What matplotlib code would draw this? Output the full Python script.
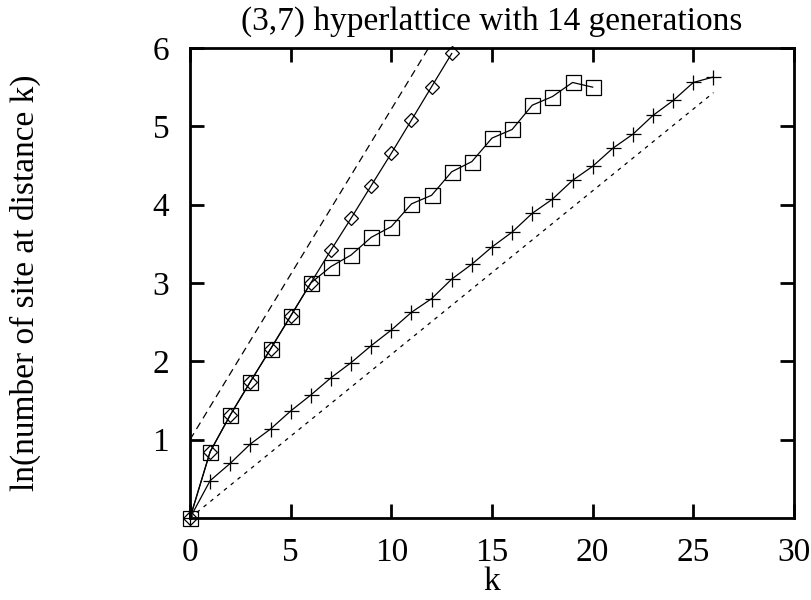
import matplotlib
matplotlib.use("Agg")
import matplotlib.pyplot as plt

# data
k_diamond = list(range(0, 14))
y_diamond = [0.0, 0.846, 1.315, 1.74, 2.157, 2.579, 3.0, 3.42, 3.826, 4.243,
             4.656, 5.08, 5.506, 5.93]
k_square = list(range(0, 21))
y_square = [0.0, 0.846, 1.315, 1.74, 2.157, 2.579, 3.0, 3.21, 3.357, 3.583,
            3.72, 4.01, 4.12, 4.42, 4.55, 4.85, 4.96, 5.27, 5.38, 5.56, 5.50]
k_plus = list(range(0, 27))
y_plus = [0.0, 0.477, 0.698, 0.945, 1.136, 1.366, 1.57, 1.79, 1.983, 2.2,
          2.40, 2.626, 2.80, 3.05, 3.24, 3.46, 3.65, 3.89, 4.07, 4.31,
          4.49, 4.72, 4.90, 5.14, 5.33, 5.56, 5.63]
# reference lines
upper_x = [0, 11.85]
upper_y = [1.0, 6.0]
lower_x = [0, 26]
lower_y = [0.0, 5.43]

xticks = [0, 5, 10, 15, 20, 25, 30]
yticks = [1, 2, 3, 4, 5, 6]

plt.rcParams['font.family'] = ['Liberation Serif', 'DejaVu Serif']

fig = plt.figure(figsize=(8.12, 6.0), dpi=100)
ax = fig.add_axes([190/812, 1-518/600, (794-190)/812, (518-48)/600])

ax.plot(upper_x, upper_y, color='black', lw=0.9, dashes=(6, 4))
ax.plot(lower_x, lower_y, color='black', lw=0.9, dashes=(3, 4))
ax.plot(k_diamond, y_diamond, color='black', lw=0.9, marker='D', ms=7.6,
        mfc='none', mec='black', mew=0.9, clip_on=False)
ax.plot(k_square, y_square, color='black', lw=0.9, marker='s', ms=10.8,
        mfc='none', mec='black', mew=0.9, clip_on=False)
ax.plot(k_plus, y_plus, color='black', lw=0.9, marker='+', ms=10.8,
        mec='black', mew=0.9, clip_on=False)

ax.set_xlim(0, 30)
ax.set_ylim(0, 6)
ax.set_xticks(xticks)
ax.set_yticks(yticks)
ax.tick_params(direction='in', length=10, width=2, top=True, right=True,
               labelsize=24)
ax.tick_params(axis='x', pad=14)
ax.tick_params(axis='y', pad=15)
for s in ax.spines.values():
    s.set_linewidth(2)

ax.set_xlabel('k', fontsize=24, labelpad=-1)
ax.set_ylabel('ln(number of site at distance k)', fontsize=24, labelpad=80)
ax.set_title('(3,7) hyperlattice with 14 generations', fontsize=24, pad=13)

fig.savefig('out.png', dpi=100)
